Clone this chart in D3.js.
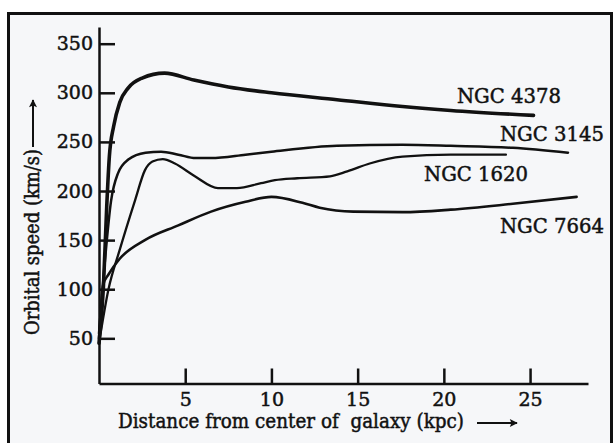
<!DOCTYPE html>
<html>
<head>
<meta charset="utf-8">
<script src="https://cdn.jsdelivr.net/npm/d3@7"></script>
<style>
  body { margin: 0; background: #fff; }
  text { font-family: "DejaVu Serif", serif; fill: #111; stroke: #111; stroke-width: 0.5px; }
</style>
</head>
<body>
<div id="chart"></div>
<script>
// galaxy names
var galaxies = ["NGC 4378", "NGC 3145", "NGC 1620", "NGC 7664"];

// rotation curves (kpc, km/s)
var dist4378  = [0, 0.25, 0.45, 0.6, 0.85, 1.2, 1.7, 2.5, 3.8, 5.5, 7.5, 10, 13.8, 17.6, 20.4, 25.2];
var speed4378 = [45, 100, 185, 235, 266, 290, 305, 315, 320, 313, 306, 300, 293, 286, 282, 277];

var dist3145  = [0, 0.3, 0.7, 1.1, 1.7, 2.7, 3.6, 4.6, 5.6, 6.5, 8.5, 10, 13.8, 17.6, 20.4, 24, 27.2];
var speed3145 = [55, 120, 190, 218, 232, 239, 240, 237, 233.5, 233.5, 237, 240, 246, 247, 246, 244, 239];

var dist1620  = [0, 0.55, 1.2, 2.1, 2.66, 3.1, 3.7, 4.4, 5.56, 6.9, 8, 9.4, 10.2, 11.5, 13.4, 14.4, 15.7, 17.6, 20.4, 23.6];
var speed1620 = [45, 100, 140, 191, 221, 230, 232.5, 228, 215, 203, 203, 208, 211, 213, 215, 220, 228, 235, 237, 237];

var dist7664  = [0, 0.25, 0.55, 1.2, 2.66, 4.6, 6.5, 8.5, 10, 11.8, 12.8, 14.75, 17.6, 20.4, 24, 27.7];
var speed7664 = [50, 105, 115, 131, 150, 165, 179, 189, 194, 188, 183, 179, 178.5, 181, 187, 194];

var xTicks = [5, 10, 15, 20, 25];
var yTicks = [50, 100, 150, 200, 250, 300, 350];

var width = 614, height = 443;

var svg = d3.select("#chart").append("svg")
    .attr("width", width)
    .attr("height", height);

// panel background + frame
svg.append("rect")
    .attr("x", 8.5).attr("y", 13.5)
    .attr("width", 603).attr("height", 500)
    .attr("fill", "#f6f7f9")
    .attr("stroke", "#111")
    .attr("stroke-width", 3);

var x = d3.scaleLinear().domain([0, 28.36]).range([99, 588]);
var y = d3.scaleLinear().domain([4, 367]).range([383.5, 27]);

var defs = svg.append("defs");
defs.append("marker")
    .attr("id", "head")
    .attr("viewBox", "0 0 10 10")
    .attr("refX", 9).attr("refY", 5)
    .attr("markerWidth", 10).attr("markerHeight", 8)
    .attr("markerUnits", "userSpaceOnUse")
    .attr("orient", "auto")
  .append("path")
    .attr("d", "M0,0 L10,5 L0,10 L2,5 Z")
    .attr("fill", "#111");

// axes
var xAxis = svg.append("g")
    .attr("transform", "translate(0,383.5)")
    .call(d3.axisBottom(x).tickValues(xTicks).tickSize(-15).tickSizeOuter(0).tickPadding(9));

var yAxis = svg.append("g")
    .attr("transform", "translate(99,0)")
    .call(d3.axisLeft(y).tickValues(yTicks).tickSize(-16).tickSizeOuter(0).tickPadding(6));

[xAxis, yAxis].forEach(function (g) {
    g.selectAll("path, line").attr("stroke", "#111").attr("stroke-width", 2.5);
    g.selectAll("text")
        .style("font-family", "DejaVu Serif, serif")
        .style("font-size", "19px")
        .attr("fill", "#111")
        .attr("stroke", "#111")
        .attr("stroke-width", 0.5);
});

// curves
var series = [
    { name: galaxies[0], d: dist4378, s: speed4378, w: 3.6 },
    { name: galaxies[1], d: dist3145, s: speed3145, w: 2.5 },
    { name: galaxies[2], d: dist1620, s: speed1620, w: 2.3 },
    { name: galaxies[3], d: dist7664, s: speed7664, w: 2.6 }
];

var line = d3.line()
    .x(function (p) { return x(p[0]); })
    .y(function (p) { return y(p[1]); })
    .curve(d3.curveMonotoneX);

svg.selectAll(".curve")
    .data(series)
    .enter()
    .append("path")
    .attr("class", "curve")
    .attr("fill", "none")
    .attr("stroke", "#111")
    .attr("stroke-width", function (d) { return d.w; })
    .attr("stroke-linecap", "round")
    .attr("d", function (d) { return line(d3.zip(d.d, d.s)); });

// curve labels (anchored in data units)
var labelAt = [[20.76, 290], [23.25, 250.5], [18.85, 209.7], [23.25, 157.4]];
svg.selectAll(".lab")
    .data(series)
    .enter()
    .append("text")
    .attr("class", "lab")
    .attr("x", function (d, i) { return x(labelAt[i][0]); })
    .attr("y", function (d, i) { return y(labelAt[i][1]); })
    .style("font-size", "20px")
    .attr("textLength", 104)
    .attr("lengthAdjust", "spacingAndGlyphs")
    .text(function (d) { return d.name; });

// axis titles with arrows
svg.append("text")
    .attr("x", 118).attr("y", 428)
    .style("font-size", "20px")
    .attr("xml:space", "preserve")
    .attr("textLength", 346)
    .attr("lengthAdjust", "spacingAndGlyphs")
    .text("Distance from center of  galaxy (kpc)");

svg.append("line")
    .attr("x1", 477).attr("y1", 423).attr("x2", 517).attr("y2", 423)
    .attr("stroke", "#111").attr("stroke-width", 2)
    .attr("marker-end", "url(#head)");

svg.append("text")
    .attr("transform", "translate(38.5,335) rotate(-90)")
    .style("font-size", "20px")
    .attr("textLength", 186)
    .attr("lengthAdjust", "spacingAndGlyphs")
    .text("Orbital speed (km/s)");

svg.append("line")
    .attr("x1", 33).attr("y1", 147).attr("x2", 33).attr("y2", 100)
    .attr("stroke", "#111").attr("stroke-width", 2)
    .attr("marker-end", "url(#head)");
</script>
</body>
</html>
